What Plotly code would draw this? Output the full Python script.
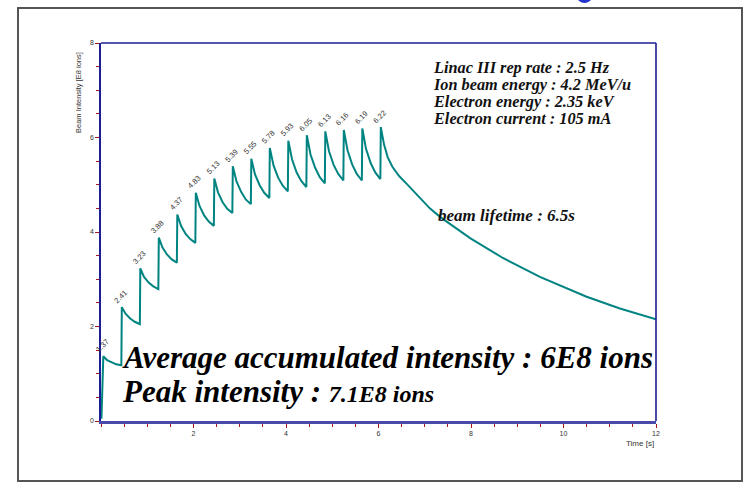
import plotly.graph_objects as go

# ---- data ----
time_s = [0.01,
          0.05, 0.13, 0.23, 0.33, 0.44,
          0.45, 0.53, 0.63, 0.73, 0.84,
          0.85, 0.93, 1.03, 1.13, 1.24,
          1.25, 1.33, 1.43, 1.53, 1.64,
          1.65, 1.73, 1.83, 1.93, 2.04,
          2.05, 2.13, 2.23, 2.33, 2.44,
          2.45, 2.53, 2.63, 2.73, 2.84,
          2.85, 2.93, 3.03, 3.13, 3.24,
          3.25, 3.33, 3.43, 3.53, 3.64,
          3.65, 3.73, 3.83, 3.93, 4.04,
          4.05, 4.13, 4.23, 4.33, 4.44,
          4.45, 4.53, 4.63, 4.73, 4.84,
          4.85, 4.93, 5.03, 5.13, 5.24,
          5.25, 5.33, 5.43, 5.53, 5.64,
          5.65, 5.73, 5.83, 5.93, 6.04,
          6.05, 6.12, 6.20, 6.30, 6.45, 6.60, 6.90, 7.11, 7.33,
          7.98, 8.69, 9.49, 10.50, 11.22, 12.00]
intensity = [0.05,
             1.37, 1.29, 1.24, 1.20, 1.18,
             2.41, 2.27, 2.17, 2.10, 2.05,
             3.23, 3.05, 2.93, 2.85, 2.79,
             3.88, 3.67, 3.52, 3.42, 3.35,
             4.37, 4.13, 3.96, 3.85, 3.77,
             4.83, 4.55, 4.35, 4.22, 4.13,
             5.13, 4.84, 4.63, 4.49, 4.40,
             5.39, 5.07, 4.85, 4.69, 4.59,
             5.55, 5.22, 4.99, 4.83, 4.72,
             5.78, 5.41, 5.15, 4.98, 4.86,
             5.93, 5.54, 5.26, 5.08, 4.95,
             6.05, 5.64, 5.36, 5.16, 5.03,
             6.13, 5.71, 5.42, 5.23, 5.09,
             6.16, 5.73, 5.43, 5.23, 5.09,
             6.19, 5.76, 5.46, 5.26, 5.12,
             6.22, 5.85, 5.58, 5.38, 5.18, 5.03, 4.71, 4.50, 4.32,
             3.87, 3.45, 3.05, 2.63, 2.38, 2.15]

peak_time = [0.05, 0.45, 0.85, 1.25, 1.65, 2.05, 2.45, 2.85, 3.25, 3.65,
             4.05, 4.45, 4.85, 5.25, 5.65, 6.05]
peak_value = [1.37, 2.41, 3.23, 3.88, 4.37, 4.83, 5.13, 5.39, 5.55, 5.78,
              5.93, 6.05, 6.13, 6.16, 6.19, 6.22]

x_tick_labels = [2, 4, 6, 8, 10, 12]
y_tick_labels = [0, 2, 4, 6, 8]

info_lines = ["Linac III rep rate : 2.5 Hz",
              "Ion beam energy : 4.2 MeV/u",
              "Electron energy : 2.35 keV",
              "Electron current : 105 mA"]

# ---- figure ----
L, T, R, B = 101, 43, 87, 61
W, H = 743, 482
pw, ph = W - L - R, H - T - B


def px(xp):
    return (xp - L) / pw


def py(yp):
    return (H - B - yp) / ph


fig = go.Figure()
fig.add_trace(go.Scatter(x=time_s, y=intensity, mode="lines",
                         line=dict(color="#008482", width=2),
                         hoverinfo="skip", showlegend=False))

ann = []
for t, v in zip(peak_time, peak_value):
    ann.append(dict(x=t, y=v, xref="x", yref="y", text=f"{v:.2f}",
                    showarrow=False, textangle=-45, yshift=11, xshift=-1,
                    font=dict(family="Liberation Sans, Arial", size=7.5, color="#333333")))

serif = "Liberation Serif, Times New Roman, serif"
info_text = "<br>".join(
    f"<span style='font-size:16.3px'><b><i>{s}</i></b></span>" for s in info_lines)
ann.append(dict(x=px(431), y=py(93.3), xref="paper", yref="paper",
                text=info_text, showarrow=False, align="left",
                xanchor="left", yanchor="middle",
                font=dict(family=serif, size=13.1, color="#111111")))

ann.append(dict(x=px(436), y=py(215), xref="paper", yref="paper",
                text="<b><i>beam lifetime : 6.5s</i></b>", showarrow=False,
                xanchor="left", yanchor="middle",
                font=dict(family=serif, size=17, color="#111111")))
ann.append(dict(x=px(120), y=py(357), xref="paper", yref="paper",
                text="<b><i>Average accumulated intensity : 6E8 ions</i></b>",
                showarrow=False, xanchor="left", yanchor="middle",
                font=dict(family=serif, size=31, color="#000000")))
ann.append(dict(x=px(120), y=py(391), xref="paper", yref="paper",
                text="<b><i>Peak intensity : <span style='font-size:24px'>7.1E8 ions</span></i></b>",
                showarrow=False, xanchor="left", yanchor="middle",
                font=dict(family=serif, size=31, color="#000000")))

ann.append(dict(x=px(78), y=py(93), xref="paper", yref="paper",
                text="Beam Intensity [E8 ions]", showarrow=False, textangle=-90,
                xanchor="center", yanchor="middle",
                font=dict(family="Liberation Sans, Arial", size=7.5, color="#333333")))
ann.append(dict(x=px(656), y=py(443), xref="paper", yref="paper",
                text="Time [s]", showarrow=False,
                xanchor="right", yanchor="middle",
                font=dict(family="Liberation Sans, Arial", size=8, color="#333333")))

shapes = [
    # outer slide frame
    dict(type="rect", xref="paper", yref="paper",
         x0=px(18), x1=px(742), y0=py(481), y1=py(8),
         line=dict(color="#555555", width=2), fillcolor="rgba(0,0,0,0)", layer="below"),
    # top and right plot borders
    dict(type="line", xref="paper", yref="paper", x0=0, x1=1, y0=1, y1=1,
         line=dict(color="#1c1c94", width=1.6)),
    dict(type="line", xref="paper", yref="paper", x0=1, x1=1, y0=0, y1=1,
         line=dict(color="#1c1c94", width=1.6)),
    # blue fragment at top of slide
    dict(type="circle", xref="paper", yref="paper",
         x0=px(577), x1=px(592), y0=py(3), y1=py(-10),
         line=dict(color="#2233cc", width=0), fillcolor="#2233cc"),
]

fig.update_layout(
    width=W, height=H,
    margin=dict(l=L, r=R, t=T, b=B, pad=0),
    paper_bgcolor="white", plot_bgcolor="white",
    annotations=ann, shapes=shapes, showlegend=False,
    xaxis=dict(range=[0, 12], tickmode="array", tickvals=x_tick_labels,
               ticktext=[str(v) for v in x_tick_labels],
               showgrid=False, zeroline=False,
               showline=True, linecolor="#4a4aaa", linewidth=2.5,
               ticks="outside", ticklen=4, tickcolor="#a01818", tickwidth=1.2,
               minor=dict(tickmode="linear", tick0=0, dtick=0.5, ticks="outside",
                          ticklen=3, tickcolor="#a01818", tickwidth=1, showgrid=False),
               tickfont=dict(family="Liberation Sans, Arial", size=7, color="#333333")),
    yaxis=dict(range=[0, 8], tickmode="array", tickvals=y_tick_labels,
               ticktext=[str(v) for v in y_tick_labels],
               showgrid=False, zeroline=False,
               showline=True, linecolor="#1c1c94", linewidth=1.6,
               ticks="outside", ticklen=4, tickcolor="#a01818", tickwidth=1.2,
               minor=dict(tickmode="linear", tick0=0, dtick=0.5, ticks="outside",
                          ticklen=3, tickcolor="#a01818", tickwidth=1, showgrid=False),
               tickfont=dict(family="Liberation Sans, Arial", size=7, color="#333333")),
)

fig.write_html("out.html")
